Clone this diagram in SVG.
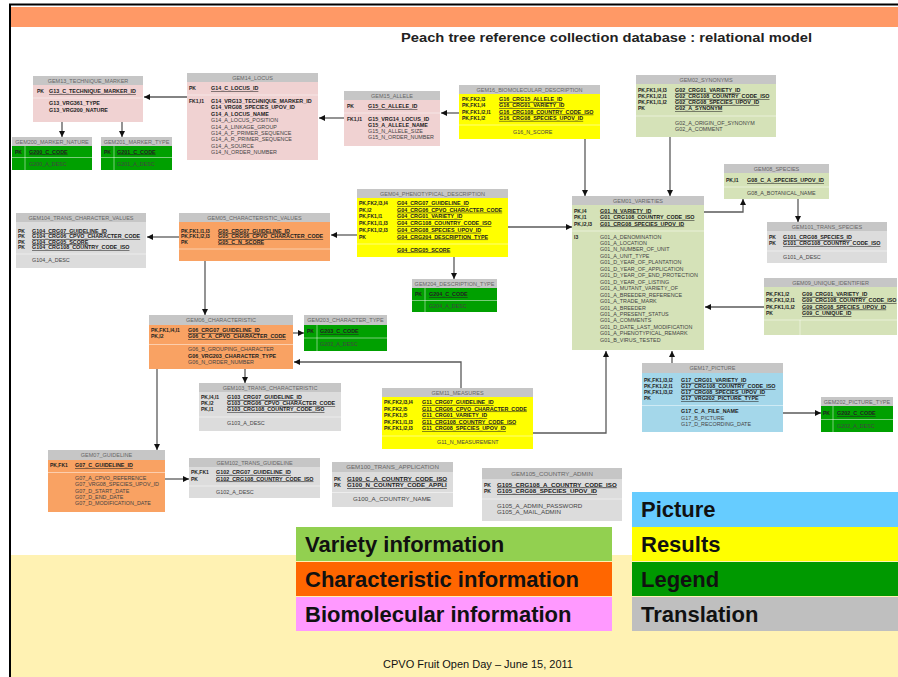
<svg xmlns="http://www.w3.org/2000/svg" width="898" height="677" viewBox="0 0 898 677">
<defs>
<marker id="ah" viewBox="0 0 10 10" refX="10" refY="5" markerWidth="6" markerHeight="6" markerUnits="userSpaceOnUse" orient="auto"><path d="M0,0L10,5L0,10z" fill="#111"/></marker>
</defs>
<style>
text{font-family:"Liberation Sans",Arial,sans-serif}
.h{fill:#c6c6c6}
.ht{font-size:5.5px;fill:#666;text-anchor:middle}
.k{font-size:5px;font-weight:bold;fill:#222}
.f{font-size:5.4px;fill:#444}
.b{font-weight:bold;fill:#222}
.u{font-weight:bold;fill:#222;text-decoration:underline}
.big .f{font-size:6.2px}
.big .ht{font-size:6.2px}
.s{stroke:#fff;stroke-opacity:.6;stroke-width:.8}
.pk{fill:#f0d2d2}.gr{fill:#d5e2b8}.ye{fill:#ffff00}.or{fill:#f9a263}.bl{fill:#a4d7ea}.gy{fill:#dcdcdc}.dg{fill:#00a000}
.c{fill:none;stroke:#5a5a5a;stroke-width:1.3;marker-end:url(#ah)}
.lg{font-size:22px;font-weight:bold;fill:#111}
</style>
<rect width="898" height="677" fill="#fff"/>
<rect x="10" y="555" width="888" height="122" fill="#fff2b3"/>
<rect x="10" y="7" width="888" height="20" fill="#ff9966"/>
<line x1="9" y1="4.5" x2="898" y2="4.5" stroke="#000" stroke-width="2"/>
<line x1="10" y1="4" x2="10" y2="677" stroke="#000" stroke-width="2"/>
<text x="401" y="42" font-size="13" font-weight="bold" fill="#222" textLength="411" lengthAdjust="spacingAndGlyphs">Peach tree reference collection database : relational model</text>

<g id="connectors">
<path class="c" d="M187,97H144"/>
<path class="c" d="M62,122V137"/>
<path class="c" d="M122,122V137"/>
<path class="c" d="M344,118H319"/>
<path class="c" d="M459,113H441"/>
<path class="c" d="M585,139V196"/>
<path class="c" d="M670,137V196"/>
<path class="c" d="M704,212H743V199"/>
<path class="c" d="M798,199V222"/>
<path class="c" d="M764,307H705"/>
<path class="c" d="M508,227H572"/>
<path class="c" d="M357,235H331"/>
<path class="c" d="M454,257V279"/>
<path class="c" d="M179,237H147"/>
<path class="c" d="M205,261V315"/>
<path class="c" d="M293,333H304"/>
<path class="c" d="M461,388V362H294"/>
<path class="c" d="M245,369V383"/>
<path class="c" d="M157,369V450"/>
<path class="c" d="M165,479H189"/>
<path class="c" d="M533,433H606V351"/>
<path class="c" d="M672,363V351"/>
<path class="c" d="M783,413H821"/>
</g>

<g id="gem13">
<rect class="pk" x="33" y="76" width="110" height="46"/><rect class="h" x="33" y="76" width="110" height="9"/>
<text class="ht" x="88" y="82.5">GEM13_TECHNIQUE_MARKER</text>
<text class="k" x="37" y="93">PK</text><text class="f u" x="49" y="93">G13_C_TECHNIQUE_MARKER_ID</text>
<line class="s" x1="33" y1="98" x2="143" y2="98"/>
<text class="f b" x="49" y="105">G13_VRG361_TYPE</text>
<text class="f b" x="49" y="111.5">G13_VRG200_NATURE</text>
</g>

<g id="gem200">
<rect class="dg" x="12" y="137" width="80" height="33"/><rect class="h" x="12" y="137" width="80" height="9"/>
<text class="ht" x="52" y="143.5">GEM200_MARKER_NATURE</text>
<line class="s" x1="12" y1="157.5" x2="92" y2="157.5"/><line class="s" x1="25" y1="146" x2="25" y2="170"/>
<text class="k" x="15" y="153.5">PK</text><text class="f u" x="29" y="153.5">G200_C_CODE</text>
<text class="f" x="29" y="165.5">G200_A_DESC</text>
</g>

<g id="gem201">
<rect class="dg" x="101" y="137" width="71" height="33"/><rect class="h" x="101" y="137" width="71" height="9"/>
<text class="ht" x="136.5" y="143.5">GEM201_MARKER_TYPE</text>
<line class="s" x1="101" y1="157.5" x2="172" y2="157.5"/><line class="s" x1="114" y1="146" x2="114" y2="170"/>
<text class="k" x="104" y="153.5">PK</text><text class="f u" x="117" y="153.5">G201_C_CODE</text>
<text class="f" x="117" y="165.5">G201_A_DESC</text>
</g>

<g id="gem14">
<rect class="pk" x="187" y="73" width="131" height="87"/><rect class="h" x="187" y="73" width="131" height="9"/>
<text class="ht" x="252.5" y="79.5">GEM14_LOCUS</text>
<text class="k" x="189" y="90">PK</text><text class="f u" x="211" y="90">G14_C_LOCUS_ID</text>
<line class="s" x1="187" y1="95" x2="318" y2="95"/>
<text class="k" x="189" y="103">FK1,I1</text>
<text class="f b" x="211" y="103">G14_VRG13_TECHNIQUE_MARKER_ID</text>
<text class="f b" x="211" y="109.4">G14_VRG08_SPECIES_UPOV_ID</text>
<text class="f b" x="211" y="115.8">G14_A_LOCUS_NAME</text>
<text class="f" x="211" y="122.2">G14_A_LOCUS_POSITION</text>
<text class="f" x="211" y="128.6">G14_A_LINKAGE_GROUP</text>
<text class="f" x="211" y="135">G14_A_F_PRIMER_SEQUENCE</text>
<text class="f" x="211" y="141.4">G14_A_R_PRIMER_SEQUENCE</text>
<text class="f" x="211" y="147.8">G14_A_SOURCE</text>
<text class="f" x="211" y="154.2">G14_N_ORDER_NUMBER</text>
</g>

<g id="gem15">
<rect class="pk" x="344" y="91" width="96" height="55"/><rect class="h" x="344" y="91" width="96" height="9"/>
<text class="ht" x="392" y="97.5">GEM15_ALLELE</text>
<text class="k" x="347" y="108">PK</text><text class="f u" x="368" y="108">G15_C_ALLELE_ID</text>
<line class="s" x1="344" y1="113" x2="440" y2="113"/>
<text class="k" x="347" y="121">FK1,I1</text>
<text class="f b" x="368" y="121">G15_VRG14_LOCUS_ID</text>
<text class="f b" x="368" y="127">G15_A_ALLELE_NAME</text>
<text class="f" x="368" y="133">G15_N_ALLELE_SIZE</text>
<text class="f" x="368" y="139">G15_N_ORDER_NUMBER</text>
</g>

<g id="gem16">
<rect class="ye" x="459" y="85" width="141" height="54"/><rect class="h" x="459" y="85" width="141" height="9"/>
<text class="ht" x="529.5" y="91.5">GEM16_BIOMOLECULAR_DESCRIPTION</text>
<text class="k" x="462" y="101">PK,FK2,I3</text><text class="f u" x="499" y="101">G16_CRG15_ALLELE_ID</text>
<text class="k" x="462" y="107.3">PK,FK1,I4</text><text class="f u" x="499" y="107.3">G16_CRG01_VARIETY_ID</text>
<text class="k" x="462" y="113.6">PK,FK1,I2,I1</text><text class="f u" x="499" y="113.6">G16_CRG108_COUNTRY_CODE_ISO</text>
<text class="k" x="462" y="119.9">PK,FK1,I2</text><text class="f u" x="499" y="119.9">G16_CRG08_SPECIES_UPOV_ID</text>
<line class="s" x1="459" y1="125" x2="600" y2="125"/>
<text class="f" x="513" y="134">G16_N_SCORE</text>
</g>

<g id="gem02">
<rect class="gr" x="636" y="75" width="140" height="62"/><rect class="h" x="636" y="75" width="140" height="9"/>
<text class="ht" x="706" y="81.5">GEM02_SYNONYMS</text>
<text class="k" x="638" y="92">PK,FK1,I4,I3</text><text class="f u" x="675" y="92">G02_CRG01_VARIETY_ID</text>
<text class="k" x="638" y="98">PK,FK1,I2,I1</text><text class="f u" x="675" y="98">G02_CRG108_COUNTRY_CODE_ISO</text>
<text class="k" x="638" y="104">PK,FK1,I1,I2</text><text class="f u" x="675" y="104">G02_CRG08_SPECIES_UPOV_ID</text>
<text class="k" x="638" y="110">PK</text><text class="f u" x="675" y="110">G02_A_SYNONYM</text>
<line class="s" x1="636" y1="116" x2="776" y2="116"/>
<text class="f" x="675" y="124.5">G02_A_ORIGIN_OF_SYNONYM</text>
<text class="f" x="675" y="131">G02_A_COMMENT</text>
</g>

<g id="gem08">
<rect class="gr" x="724" y="164" width="105" height="35"/><rect class="h" x="724" y="164" width="105" height="9"/>
<text class="ht" x="776.5" y="170.5">GEM08_SPECIES</text>
<text class="k" x="726" y="182">PK,I1</text><text class="f u" x="747" y="182">G08_C_A_SPECIES_UPOV_ID</text>
<line class="s" x1="724" y1="187" x2="829" y2="187"/>
<text class="f" x="747" y="195">G08_A_BOTANICAL_NAME</text>
</g>

<g id="gem101">
<rect class="gy" x="767" y="222" width="120" height="41"/><rect class="h" x="767" y="222" width="120" height="9"/>
<text class="ht" x="827" y="228.5">GEM101_TRANS_SPECIES</text>
<text class="k" x="769" y="239">PK</text><text class="f u" x="783" y="239">G101_CRG08_SPECIES_ID</text>
<text class="k" x="769" y="245.3">PK</text><text class="f u" x="783" y="245.3">G101_CRG108_COUNTRY_CODE_ISO</text>
<line class="s" x1="767" y1="251" x2="887" y2="251"/>
<text class="f" x="783" y="258.5">G101_A_DESC</text>
</g>

<g id="gem09">
<rect class="gr" x="764" y="278" width="133" height="57"/><rect class="h" x="764" y="278" width="133" height="9"/>
<text class="ht" x="830.5" y="284.5">GEM09_UNIQUE_IDENTIFIER</text>
<text class="k" x="766" y="296">PK,FK1,I2</text><text class="f u" x="802" y="296">G09_CRG01_VARIETY_ID</text>
<text class="k" x="766" y="302.3">PK,FK1,I2,I1</text><text class="f u" x="802" y="302.3">G09_CRG108_COUNTRY_CODE_ISO</text>
<text class="k" x="766" y="308.6">PK,FK1,I1,I2</text><text class="f u" x="802" y="308.6">G09_CRG08_SPECIES_UPOV_ID</text>
<text class="k" x="766" y="315">PK</text><text class="f u" x="802" y="315">G09_C_UNIQUE_ID</text>
<line class="s" x1="764" y1="320" x2="897" y2="320"/>
<line class="s" x1="800" y1="320" x2="800" y2="335"/>
</g>

<g id="gem01">
<rect class="gr" x="572" y="196" width="132" height="154"/><rect class="h" x="572" y="196" width="132" height="9"/>
<text class="ht" x="638" y="202.5">GEM01_VARIETIES</text>
<text class="k" x="574" y="212.5">PK,I4</text><text class="f u" x="600" y="212.5">G01_N_VARIETY_ID</text>
<text class="k" x="574" y="219">PK,I1</text><text class="f u" x="600" y="219">G01_CRG108_COUNTRY_CODE_ISO</text>
<text class="k" x="574" y="225.5">PK,I2,I3</text><text class="f u" x="600" y="225.5">G01_CRG08_SPECIES_UPOV_ID</text>
<line class="s" x1="572" y1="231" x2="704" y2="231"/>
<text class="k" x="574" y="238.5">I3</text>
<text class="f" x="600" y="238.5">G01_A_DENOMINATION</text>
<text class="f" x="600" y="245">G01_A_LOCATION</text>
<text class="f" x="600" y="251.4">G01_N_NUMBER_OF_UNIT</text>
<text class="f" x="600" y="257.9">G01_A_UNIT_TYPE</text>
<text class="f" x="600" y="264.3">G01_D_YEAR_OF_PLANTATION</text>
<text class="f" x="600" y="270.8">G01_D_YEAR_OF_APPLICATION</text>
<text class="f" x="600" y="277.2">G01_D_YEAR_OF_END_PROTECTION</text>
<text class="f" x="600" y="283.7">G01_D_YEAR_OF_LISTING</text>
<text class="f" x="600" y="290.1">G01_A_MUTANT_VARIETY_OF</text>
<text class="f" x="600" y="296.6">G01_A_BREEDER_REFERENCE</text>
<text class="f" x="600" y="303">G01_A_TRADE_MARK</text>
<text class="f" x="600" y="309.5">G01_A_BREEDER</text>
<text class="f" x="600" y="315.9">G01_A_PRESENT_STATUS</text>
<text class="f" x="600" y="322.4">G01_A_COMMENTS</text>
<text class="f" x="600" y="328.8">G01_D_DATE_LAST_MODIFICATION</text>
<text class="f" x="600" y="335.3">G01_A_PHENOTYPICAL_REMARK</text>
<text class="f" x="600" y="341.7">G01_B_VIRUS_TESTED</text>
</g>

<g id="gem04">
<rect class="ye" x="357" y="189" width="151" height="68"/><rect class="h" x="357" y="189" width="151" height="9"/>
<text class="ht" x="432.5" y="195.5">GEM04_PHENOTYPICAL_DESCRIPTION</text>
<text class="k" x="359" y="205">PK,FK2,I3,I4</text><text class="f u" x="397" y="205">G04_CRG07_GUIDELINE_ID</text>
<text class="k" x="359" y="211.7">PK,I2</text><text class="f u" x="397" y="211.7">G04_CRG06_CPVO_CHARACTER_CODE</text>
<text class="k" x="359" y="218.4">PK,FK1,I1</text><text class="f u" x="397" y="218.4">G04_CRG01_VARIETY_ID</text>
<text class="k" x="359" y="225.1">PK,FK1,I1,I3</text><text class="f u" x="397" y="225.1">G04_CRG108_COUNTRY_CODE_ISO</text>
<text class="k" x="359" y="231.8">PK,FK1,I2,I3</text><text class="f u" x="397" y="231.8">G04_CRG08_SPECIES_UPOV_ID</text>
<text class="k" x="359" y="238.5">PK</text><text class="f u" x="397" y="238.5">G04_CRG204_DESCRIPTION_TYPE</text>
<line class="s" x1="357" y1="244" x2="508" y2="244"/>
<text class="f u" x="397" y="251.5">G04_CRG05_SCORE</text>
</g>

<g id="gem204">
<rect class="dg" x="412" y="279" width="85" height="33"/><rect class="h" x="412" y="279" width="85" height="9"/>
<text class="ht" x="454.5" y="285.5">GEM204_DESCRIPTION_TYPE</text>
<line class="s" x1="412" y1="300.5" x2="497" y2="300.5"/><line class="s" x1="425" y1="288" x2="425" y2="312"/>
<text class="k" x="415" y="296">PK</text><text class="f u" x="429" y="296">G204_C_CODE</text>
<text class="f" x="429" y="308">G204_A_DESC</text>
</g>

<g id="gem104">
<rect class="gy" x="16" y="213" width="130" height="55"/><rect class="h" x="16" y="213" width="130" height="9"/>
<text class="ht" x="81" y="219.5">GEM104_TRANS_CHARACTER_VALUES</text>
<text class="k" x="18" y="232.5">PK</text><text class="f u" x="32" y="232.5">G104_CRG07_GUIDELINE_ID</text>
<text class="k" x="18" y="238">PK</text><text class="f u" x="32" y="238">G104_CRG06_CPVO_CHARACTER_CODE</text>
<text class="k" x="18" y="243.5">PK</text><text class="f u" x="32" y="243.5">G104_CRG05_SCORE</text>
<text class="k" x="18" y="249">PK</text><text class="f u" x="32" y="249">G104_CRG108_COUNTRY_CODE_ISO</text>
<line class="s" x1="16" y1="254" x2="146" y2="254"/>
<text class="f" x="32" y="262">G104_A_DESC</text>
</g>

<g id="gem05">
<rect class="or" x="179" y="213" width="151" height="48"/><rect class="h" x="179" y="213" width="151" height="9"/>
<text class="ht" x="254.5" y="219.5">GEM05_CHARACTERISTIC_VALUES</text>
<text class="k" x="181" y="232.5">PK,FK1,I1,I3</text><text class="f u" x="218" y="232.5">G05_CRG07_GUIDELINE_ID</text>
<text class="k" x="181" y="238">PK,FK1,I2,I3</text><text class="f u" x="218" y="238">G05_CRG06_CPVO_CHARACTER_CODE</text>
<text class="k" x="181" y="243.5">PK</text><text class="f u" x="218" y="243.5">G05_C_N_SCORE</text>
<line class="s" x1="179" y1="249" x2="330" y2="249"/>
</g>

<g id="gem06">
<rect class="or" x="149" y="315" width="144" height="54"/><rect class="h" x="149" y="315" width="144" height="10"/>
<text class="ht" x="221" y="321.5">GEM06_CHARACTERISTIC</text>
<text class="k" x="151" y="332">PK,FK1,I4,I1</text><text class="f u" x="188" y="332">G06_CRG07_GUIDELINE_ID</text>
<text class="k" x="151" y="338">PK,I2</text><text class="f u" x="188" y="338">G06_C_A_CPVO_CHARACTER_CODE</text>
<line class="s" x1="149" y1="344.5" x2="293" y2="344.5"/>
<text class="f" x="188" y="351">G06_B_GROUPING_CHARACTER</text>
<text class="f b" x="188" y="357.5">G06_VRG203_CHARACTER_TYPE</text>
<text class="f" x="188" y="364">G06_N_ORDER_NUMBER</text>
</g>

<g id="gem203">
<rect class="dg" x="304" y="315" width="83" height="36"/><rect class="h" x="304" y="315" width="83" height="10"/>
<text class="ht" x="345.5" y="321.5">GEM203_CHARACTER_TYPE</text>
<line class="s" x1="304" y1="338" x2="387" y2="338"/><line class="s" x1="317" y1="325" x2="317" y2="351"/>
<text class="k" x="307" y="333">PK</text><text class="f u" x="320" y="333">G203_C_CODE</text>
<text class="f" x="320" y="346">G203_A_DESC</text>
</g>

<g id="gem103">
<rect class="gy" x="199" y="383" width="142" height="48"/><rect class="h" x="199" y="383" width="142" height="9"/>
<text class="ht" x="270" y="389.5">GEM103_TRANS_CHARACTERISTIC</text>
<text class="k" x="201" y="399">PK,I4,I1</text><text class="f u" x="227" y="399">G103_CRG07_GUIDELINE_ID</text>
<text class="k" x="201" y="405">PK,I2</text><text class="f u" x="227" y="405">G103_CRG06_CPVO_CHARACTER_CODE</text>
<text class="k" x="201" y="411">PK,I1</text><text class="f u" x="227" y="411">G103_CRG108_COUNTRY_CODE_ISO</text>
<line class="s" x1="199" y1="417" x2="341" y2="417"/>
<text class="f" x="227" y="425">G103_A_DESC</text>
</g>

<g id="gem11">
<rect class="ye" x="382" y="388" width="151" height="61"/><rect class="h" x="382" y="388" width="151" height="9"/>
<text class="ht" x="457.5" y="394.5">GEM11_MEASURES</text>
<text class="k" x="384" y="404">PK,FK2,I3,I4</text><text class="f u" x="422" y="404">G11_CRG07_GUIDELINE_ID</text>
<text class="k" x="384" y="410.5">PK,FK2,I5</text><text class="f u" x="422" y="410.5">G11_CRG06_CPVO_CHARACTER_CODE</text>
<text class="k" x="384" y="417">PK,FK1,I5</text><text class="f u" x="422" y="417">G11_CRG01_VARIETY_ID</text>
<text class="k" x="384" y="423.5">PK,FK1,I1,I3</text><text class="f u" x="422" y="423.5">G11_CRG108_COUNTRY_CODE_ISO</text>
<text class="k" x="384" y="430">PK,FK1,I2,I3</text><text class="f u" x="422" y="430">G11_CRG08_SPECIES_UPOV_ID</text>
<line class="s" x1="382" y1="436" x2="533" y2="436"/>
<text class="f" x="437" y="443.5">G11_N_MEASUREMENT</text>
</g>

<g id="gem17">
<rect class="bl" x="642" y="363" width="141" height="69"/><rect class="h" x="642" y="363" width="141" height="10"/>
<text class="ht" x="712.5" y="370">GEM17_PICTURE</text>
<text class="k" x="644" y="382">PK,FK1,I3,I2</text><text class="f u" x="681" y="382">G17_CRG01_VARIETY_ID</text>
<text class="k" x="644" y="388">PK,FK1,I2,I1</text><text class="f u" x="681" y="388">G17_CRG108_COUNTRY_CODE_ISO</text>
<text class="k" x="644" y="394">PK,FK1,I3,I2</text><text class="f u" x="681" y="394">G17_CRG08_SPECIES_UPOV_ID</text>
<text class="k" x="644" y="400">PK</text><text class="f u" x="681" y="400">G17_VRG202_PICTURE_TYPE</text>
<line class="s" x1="642" y1="405.5" x2="783" y2="405.5"/>
<text class="f b" x="681" y="413">G17_C_A_FILE_NAME</text>
<text class="f" x="681" y="419.5">G17_B_PICTURE</text>
<text class="f" x="681" y="426">G17_D_RECORDING_DATE</text>
</g>

<g id="gem202">
<rect class="dg" x="821" y="397" width="72" height="35"/><rect class="h" x="821" y="397" width="72" height="9"/>
<text class="ht" x="857" y="403.5">GEM202_PICTURE_TYPE</text>
<line class="s" x1="821" y1="419.5" x2="893" y2="419.5"/><line class="s" x1="833" y1="406" x2="833" y2="432"/>
<text class="k" x="823" y="415">PK</text><text class="f u" x="837" y="415">G202_C_CODE</text>
<text class="f" x="837" y="428">G202_A_DESC</text>
</g>

<g id="gem07">
<rect class="or" x="48" y="450" width="117" height="62"/><rect class="h" x="48" y="450" width="117" height="10"/>
<text class="ht" x="106.5" y="456.5">GEM07_GUIDELINE</text>
<text class="k" x="50" y="467">PK,FK1</text><text class="f u" x="75" y="467">G07_C_GUIDELINE_ID</text>
<line class="s" x1="48" y1="472.5" x2="165" y2="472.5"/>
<text class="f" x="75" y="480">G07_A_CPVO_REFERENCE</text>
<text class="f" x="75" y="486.3">G07_VRG08_SPECIES_UPOV_ID</text>
<text class="f" x="75" y="492.6">G07_D_START_DATE</text>
<text class="f" x="75" y="498.9">G07_D_END_DATE</text>
<text class="f" x="75" y="505.2">G07_D_MODIFICATION_DATE</text>
</g>

<g id="gem102">
<rect class="gy" x="189" y="458" width="131" height="40"/><rect class="h" x="189" y="458" width="131" height="9"/>
<text class="ht" x="254.5" y="464.5">GEM102_TRANS_GUIDELINE</text>
<text class="k" x="191" y="474">PK,FK1</text><text class="f u" x="216" y="474">G102_CRG07_GUIDELINE_ID</text>
<text class="k" x="191" y="480.5">PK</text><text class="f u" x="216" y="480.5">G102_CRG108_COUNTRY_CODE_ISO</text>
<line class="s" x1="189" y1="486" x2="320" y2="486"/>
<text class="f" x="216" y="493.5">G102_A_DESC</text>
</g>

<g id="gem100" class="big">
<rect class="gy" x="332" y="462" width="121" height="45"/><rect class="h" x="332" y="462" width="121" height="10"/>
<text class="ht" x="392.5" y="469">GEM100_TRANS_APPLICATION</text>
<text class="k" x="334" y="480.5">PK</text><text class="f u" x="347" y="480.5">G100_C_A_COUNTRY_CODE_ISO</text>
<text class="k" x="334" y="487">PK</text><text class="f u" x="347" y="487">G100_N_COUNTRY_CODE_APPLI</text>
<line class="s" x1="332" y1="492.5" x2="453" y2="492.5"/>
<text class="f" x="353" y="501">G100_A_COUNTRY_NAME</text>
</g>

<g id="gem105" class="big">
<rect class="gy" x="482" y="468" width="140" height="53"/><rect class="h" x="482" y="468" width="140" height="11"/>
<text class="ht" x="552" y="476">GEM105_COUNTRY_ADMIN</text>
<text class="k" x="484" y="486.5">PK</text><text class="f u" x="497" y="486.5">G105_CRG108_A_COUNTRY_CODE_ISO</text>
<text class="k" x="484" y="493">PK</text><text class="f u" x="497" y="493">G105_CRG08_SPECIES_UPOV_ID</text>
<line class="s" x1="482" y1="499" x2="622" y2="499"/>
<text class="f" x="497" y="507.5">G105_A_ADMIN_PASSWORD</text>
<text class="f" x="497" y="514">G105_A_MAIL_ADMIN</text>
</g>

<g id="legend">
<rect x="296" y="527" width="316" height="34" fill="#92d050"/>
<rect x="296" y="562" width="316" height="34" fill="#ff6600"/>
<rect x="296" y="597" width="316" height="34" fill="#ff99ff"/>
<rect x="632" y="492" width="266" height="35" fill="#66ccff"/>
<rect x="632" y="527" width="266" height="34" fill="#ffff00"/>
<rect x="632" y="562" width="266" height="34" fill="#009900"/>
<rect x="632" y="597" width="266" height="34" fill="#bfbfbf"/>
<text class="lg" x="305" y="552">Variety information</text>
<text class="lg" x="305" y="587">Characteristic information</text>
<text class="lg" x="305" y="622">Biomolecular information</text>
<text class="lg" x="641" y="517">Picture</text>
<text class="lg" x="641" y="552">Results</text>
<text class="lg" x="641" y="587">Legend</text>
<text class="lg" x="641" y="622">Translation</text>
</g>

<text x="478" y="668" font-size="11" fill="#111" text-anchor="middle">CPVO Fruit Open Day – June 15, 2011</text>
</svg>
